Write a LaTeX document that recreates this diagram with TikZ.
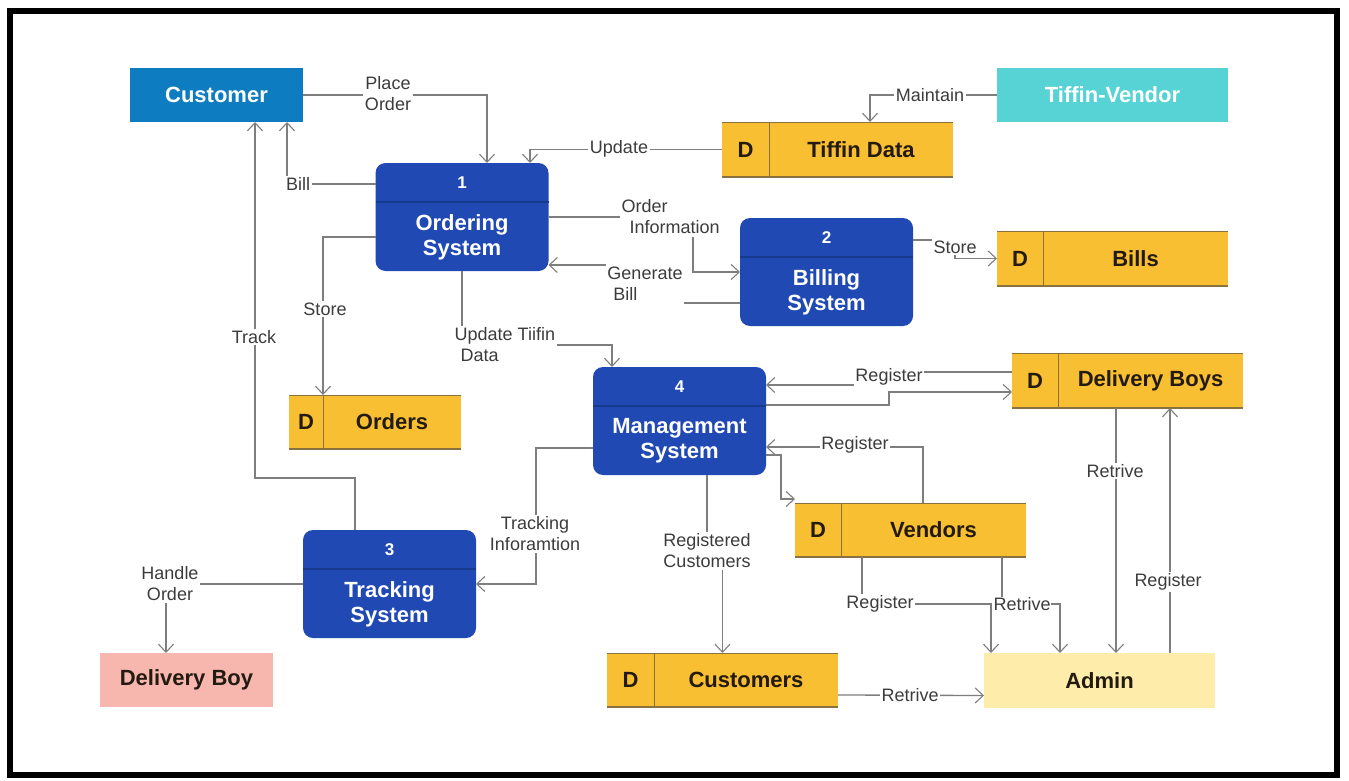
\documentclass[tikz,border=0pt]{standalone}
\usepackage{fontspec}
\setmainfont{Liberation Sans}
\usetikzlibrary{arrows.meta,calc}
\definecolor{procblue}{HTML}{2149B3}
\definecolor{procdiv}{HTML}{163A8E}
\definecolor{custblue}{HTML}{0E7CC1}
\definecolor{tvcyan}{HTML}{57D3D5}
\definecolor{storey}{HTML}{F8BF33}
\definecolor{storeln}{HTML}{8A7240}
\definecolor{dbpink}{HTML}{F7B7AF}
\definecolor{adminy}{HTML}{FEEDAA}
\definecolor{lgray}{HTML}{7E7E7E}
\definecolor{labgray}{HTML}{3C3C3C}
\definecolor{darktxt}{HTML}{231A10}
\tikzset{
  conn/.style={draw=lgray, line width=1.3pt},
  arr/.style={conn, -{Straight Barb[length=8pt,width=15pt,line width=1.1pt]}},
  lab/.style={fill=white, inner sep=1.5pt, text=labgray, font=\fontsize{18}{21}\selectfont, align=center},
  proc/.style={fill=procblue, rounded corners=10pt, inner sep=0pt, outer sep=0pt, minimum width=173pt, minimum height=108pt},
  ptitle/.style={text=white, font=\fontsize{22}{25}\selectfont\bfseries, align=center, inner sep=0pt},
  pnum/.style={text=white, font=\fontsize{17}{20}\selectfont\bfseries, inner sep=0pt},
  ent/.style={inner sep=0pt, outer sep=0pt, font=\fontsize{22}{25}\selectfont\bfseries},
  storebox/.style={fill=storey, inner sep=0pt, outer sep=0pt},
  storetxt/.style={text=darktxt, font=\fontsize{22}{25}\selectfont\bfseries, inner sep=0pt},
}
% name, cx, cy, number, title
\newcommand\procbox[5]{%
  \node[proc] (#1) at (#2,#3) {};
  \draw[procdiv, line width=1.6pt] ({#2-86.5},{#3-15}) -- ({#2+86.5},{#3-15});
  \node[pnum] (#1n) at (#2,{#3-34}) {#4};
  \node[ptitle] (#1t) at (#2,{#3+20}) {#5};
}
% name, x1, y1, x2, y2, xdiv, text
\newcommand\dstore[7]{%
  \node[storebox, minimum width={#4-#2}, minimum height={#5-#3}] (#1) at ({(#2+#4)/2},{(#3+#5)/2}) {};
  \draw[storeln, line width=0.9pt] (#2,#3) -- (#4,#3);
  \draw[storeln, line width=1.4pt] (#2,#5) -- (#4,#5);
  \draw[storeln, line width=1pt] (#6,#3) -- (#6,#5);
  \node[storetxt] (#1d) at ({(#2+#6)/2},{(#3+#5)/2}) {D};
  \node[storetxt] (#1t) at ({(#6+#4)/2},{(#3+#5)/2}) {#7};
}
\begin{document}
\begin{tikzpicture}[x=1pt,y=-1pt]
\useasboundingbox (0,0) rectangle (1349,781);
\fill[white] (0,0) rectangle (1349,781);
\draw[line width=6pt] (10,11) rectangle (1337,775);

% external entities
\node[ent, fill=custblue, text=white, minimum width=173pt, minimum height=54pt] (cust) at (216.5,95) {Customer};
\node[ent, fill=tvcyan, text=white, minimum width=231pt, minimum height=54pt] (tv) at (1112.5,95) {Tiffin-Vendor};
\node[ent, fill=dbpink, text=darktxt, minimum width=173pt, minimum height=54pt] (dboy) at (186.5,680) {Delivery Boy};
\node[ent, fill=adminy, text=darktxt, minimum width=231pt, minimum height=55pt] (admin) at (1099.5,680.5) {Admin};

% processes
\procbox{p1}{462}{217}{1}{Ordering\\System}
\procbox{p2}{826.5}{272}{2}{Billing\\System}
\procbox{p3}{389.5}{584}{3}{Tracking\\System}
\procbox{p4}{679.5}{421}{4}{Management\\System}

% data stores
\dstore{tdata}{722}{122}{953}{177}{769}{Tiffin Data}
\dstore{bills}{997}{231}{1228}{286}{1043}{Bills}
\dstore{dboys}{1012}{353}{1243}{408}{1058}{Delivery Boys}
\dstore{orders}{289}{395}{461}{449}{323}{Orders}
\dstore{vendors}{795}{503}{1026}{557}{841}{Vendors}
\dstore{custs}{607}{653}{838}{707}{654}{Customers}

% connectors
\draw[arr] (cust.east) -| ([xshift=25pt]p1.north);
\draw[arr] ([yshift=33pt]p1.west) -| ([xshift=70.5pt]cust.south);
\draw[arr] (tdata.west) -| ([xshift=68pt]p1.north);
\draw[arr] (tv.west) -| ([xshift=32.5pt]tdata.north);
\draw[arr] (p1.east) -| ([xshift=-47pt]p2.west) -- (p2.west);
\draw[arr] ([yshift=-31pt]p2.west) -| ([xshift=134pt,yshift=-48pt]p1.east) -- ([yshift=-48pt]p1.east);
\draw[arr] ([yshift=-20pt]p1.west) -| ([xshift=-52pt]orders.north);
\draw[arr] (p1.south) -- ++(0,74) -| ([xshift=-67.5pt]p4.north);
\draw[arr] ([yshift=32pt]p2.east) -| ([xshift=-42pt]bills.west) -- (bills.west);
\draw[arr] ([xshift=-34.5pt]p3.north) -- ++(0,-52) -| ([xshift=38.5pt]cust.south);
\draw[arr] ([yshift=8.5pt]dboys.west) -| ([xshift=123pt,yshift=36pt]p4.east) -- ([yshift=36pt]p4.east);
\draw[arr] ([yshift=16pt]p4.east) -| ([xshift=-123pt,yshift=-11.5pt]dboys.west) -- ([yshift=-11.5pt]dboys.west);
\draw[arr] ([xshift=12.5pt]vendors.north) |- ([yshift=-26pt]p4.east);
\draw[arr] ([yshift=-34pt]p4.east) -- ++(15,0) |- ([yshift=4pt]vendors.north west);
\draw[arr] ([xshift=27.5pt]p4.south) -- ++(0,76) -| (custs.north);
\draw[arr] ([yshift=-27pt]p4.west) -| ([xshift=60pt]p3.east) -- (p3.east);
\draw[arr] (p3.west) -| ([xshift=-20.5pt]dboy.north);
\draw[arr] ([xshift=91.5pt]vendors.south) -- ++(0,47) -| ([xshift=-39.5pt]admin.north);
\draw[arr] ([xshift=-11.5pt]dboys.south) -- ([xshift=16.5pt]admin.north);
\draw[arr] ([xshift=70.5pt]admin.north) -- ([xshift=42.5pt]dboys.south);
\draw[arr] ([yshift=-15pt]custs.east) -- ([yshift=-15pt]admin.west);

% labels
\node[lab] (l1) at (388,94) {Place\\Order};
\node[lab] (l2) at (298,184) {Bill};
\node[lab] (l3) at (619,149) {Update};
\node[lab] (l4) at (930,95) {Maintain};
\node[lab, align=left, anchor=west, inner ysep=3pt] (l5) at (620,217) {Order\\\hspace*{8pt}Information};
\node[lab, align=left, inner ysep=3.5pt] (l6) at (645,284) {Generate\\\hspace*{6pt}Bill};
\node[lab] (l7) at (325,309) {Store};
\node[lab, align=left, anchor=west] (l8) at (453,345) {Update Tiifin\\\hspace*{6pt}Data};
\node[lab] (l9) at (955,247) {Store};
\node[lab] (l10) at (254,337) {Track};
\node[lab] (l11) at (889,377) {Register};
\node[lab] (l13) at (855,445) {Register};
\node[lab] (l15) at (707,551) {Registered\\Customers};
\node[lab] (l16) at (535,534) {Tracking\\Inforamtion};
\node[lab] (l17) at (170,584) {Handle\\Order};
\node[lab, inner sep=0.5pt, anchor=west] (l19) at (993,604) {Retrive};
\draw[arr] ([xshift=-48.5pt]vendors.south) -- ++(0,47) -| ([xshift=-108.5pt]admin.north);
\node[lab] (l18) at (880,604) {Register};
\node[lab] (l20) at (1115,471) {Retrive};
\node[lab] (l21) at (1168,582) {Register};
\node[lab] (l22) at (910,695) {Retrive};
\end{tikzpicture}
\end{document}
